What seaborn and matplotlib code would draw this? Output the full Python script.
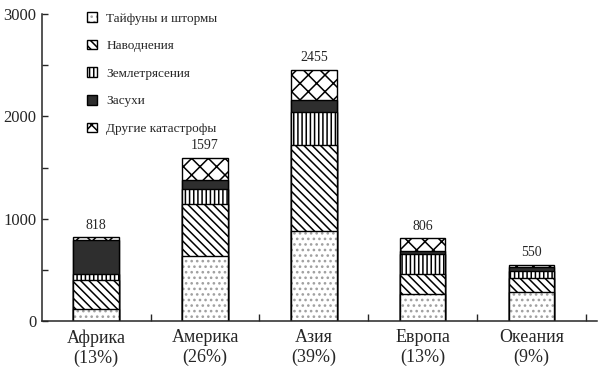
import numpy as np
import matplotlib
matplotlib.use('Agg')
import matplotlib.pyplot as plt
import seaborn as sns
from matplotlib.patches import Patch
from matplotlib.ticker import MultipleLocator, FixedLocator

# ---- data ----
regions = ['Африка', 'Америка', 'Азия', 'Европа', 'Океания']
shares = ['13%', '26%', '39%', '13%', '9%']
totals = [818, 1597, 2455, 806, 550]

typhoons = [121, 637, 880, 259, 278]
floods = [279, 510, 844, 199, 142]
quakes = [54, 144, 322, 199, 69]
droughts = [333, 85, 114, 23, 37]
others = [31, 221, 295, 126, 24]

series_names = ['Тайфуны и штормы', 'Наводнения', 'Землетрясения',
                'Засухи', 'Другие катастрофы']
series_vals = [typhoons, floods, quakes, droughts, others]
faces = ['white', 'white', 'white', '#2e2e2e', 'white']
hatches = ['...', '\\\\\\\\', '||||', None, 'xx']
hatch_cols = ['#a0a0a0', 'black', 'black', 'black', 'black']


def paint(p, i):
    p.set_facecolor(faces[i])
    p.set_edgecolor('black')
    if hatches[i]:
        p.set_hatch(hatches[i])
        try:
            p.set_hatchcolor(hatch_cols[i])
        except AttributeError:
            p._hatch_color = matplotlib.colors.to_rgba(hatch_cols[i])


sns.set_style('ticks')
plt.rcParams['font.family'] = ['Liberation Serif', 'DejaVu Serif']
plt.rcParams['hatch.linewidth'] = 1.1
plt.rcParams['hatch.color'] = 'black'

fig = plt.figure(figsize=(6.07, 3.71), dpi=100)
ax = fig.add_axes([0.069, 0.135, 0.914, 0.827])

labels = [f'{r}\n({s})' for r, s in zip(regions, shares)]
cum = np.cumsum(np.array(series_vals), axis=0)

# stacked bars: draw cumulative heights from the top layer down
for i in reversed(range(len(series_vals))):
    n0 = len(ax.patches)
    sns.barplot(x=labels, y=cum[i], color=faces[i], saturation=1,
                width=0.42, edgecolor='black', linewidth=1.0, ax=ax)
    for p in ax.patches[n0:]:
        paint(p, i)

# totals above bars
for x, t in enumerate(totals):
    ax.text(x, t + 55, str(t), ha='center', va='bottom', fontsize=10)

ax.set_xlim(-0.5, 4.6)
ax.set_ylim(0, 3000)
ax.yaxis.set_major_locator(MultipleLocator(1000))
ax.yaxis.set_minor_locator(MultipleLocator(500))
ax.xaxis.set_minor_locator(FixedLocator([0.5, 1.5, 2.5, 3.5, 4.5]))
ax.tick_params(axis='y', which='both', direction='in', length=4, width=1,
               labelsize=12, pad=4)
ax.tick_params(axis='x', which='major', length=0, labelsize=13, pad=6)
ax.tick_params(axis='x', which='minor', direction='in', length=5, width=1)
ax.set_xlabel('')
ax.set_ylabel('')
sns.despine(ax=ax)
for s in ['left', 'bottom']:
    ax.spines[s].set_linewidth(1.1)

handles = []
for i in range(len(series_names)):
    h = Patch(label=series_names[i])
    paint(h, i)
    handles.append(h)
ax.legend(handles=handles, loc='upper left', bbox_to_anchor=(0.06, 1.045),
          frameon=False, fontsize=9.5, handlelength=0.75, handleheight=0.75,
          labelspacing=1.15, handletextpad=0.7)

fig.savefig('out.png', dpi=100)
